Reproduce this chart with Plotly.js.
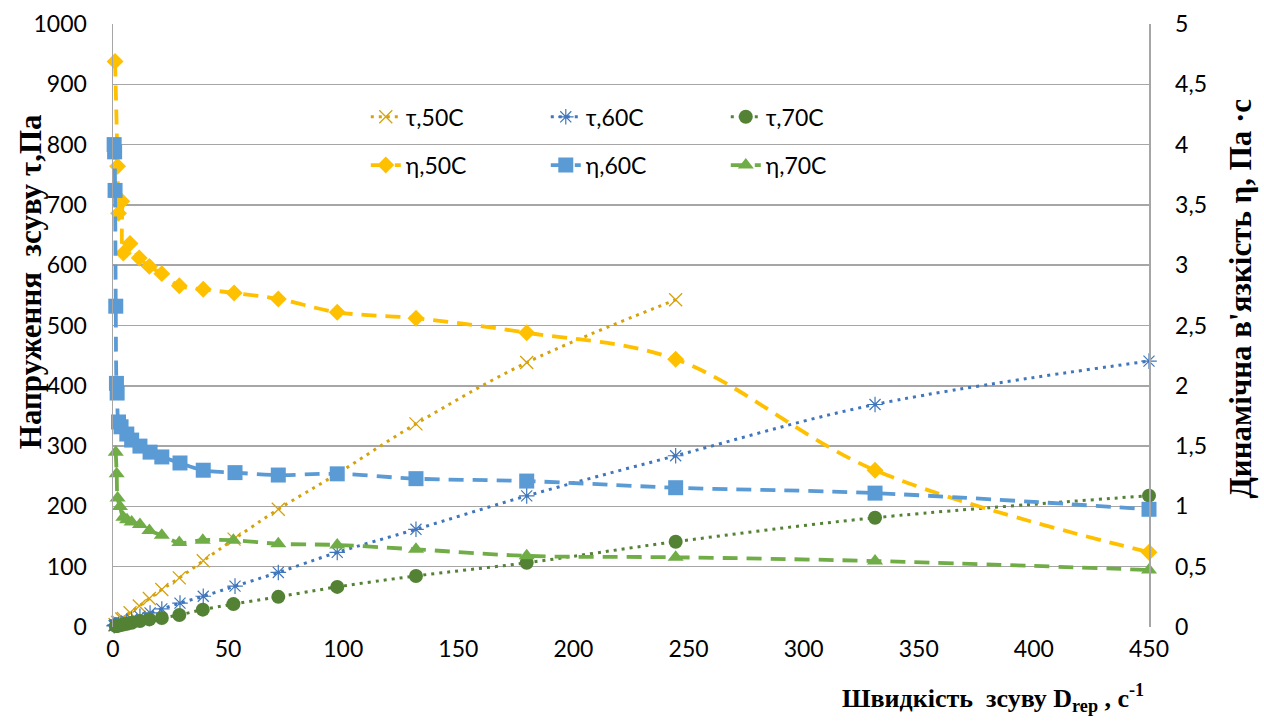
<!DOCTYPE html>
<html>
<head>
<meta charset="utf-8">
<script src="https://cdn.plot.ly/plotly-3.0.1.min.js"></script>
<style>html,body{margin:0;padding:0;background:#fff;}#chart{width:1264px;height:722px;}</style>
</head>
<body>
<div id="chart"></div>
<script>
// Shear rate D (1/s) per series
const xTau50 = [0.9, 2.0, 2.4, 3.8, 4.5, 7.4, 11.4, 15.8, 21.2, 28.8, 39.2, 52.6, 71.8, 97.4, 131.6, 179.7, 244.4];
const tau50  = [4.2, 7.6, 8.2, 13.4, 14.0, 23.5, 34.9, 47.2, 62.1, 81.5, 109.8, 145.7, 195.3, 254.2, 336.9, 438.5, 542.6];
const xEta50 = [0.9, 2.0, 2.4, 3.8, 4.5, 7.4, 11.4, 15.8, 21.2, 28.8, 39.2, 52.6, 71.8, 97.4, 131.6, 179.7, 244.4, 331, 450];
const eta50  = [4.69, 3.82, 3.43, 3.53, 3.10, 3.18, 3.06, 2.99, 2.93, 2.83, 2.80, 2.77, 2.72, 2.61, 2.56, 2.44, 2.22, 1.30, 0.62];

const x60    = [0.5, 0.7, 0.9, 1.2, 1.5, 1.8, 2.4, 3.5, 6.0, 8.1, 11.7, 16.1, 21.2, 29.1, 39.2, 53.0, 71.8, 97.4, 131.6, 179.7, 244.4, 331, 450];
const tau60  = [2.0, 2.8, 3.3, 3.2, 3.0, 3.5, 4.1, 5.8, 9.6, 12.6, 17.6, 23.3, 29.9, 39.6, 51.0, 67.8, 90.5, 123.7, 162.0, 217.4, 284.0, 369.0, 441.0];
const eta60  = [4.00, 3.94, 3.62, 2.66, 2.02, 1.94, 1.70, 1.66, 1.60, 1.55, 1.50, 1.45, 1.41, 1.36, 1.30, 1.28, 1.26, 1.27, 1.23, 1.21, 1.155, 1.11, 0.976];

const x70    = [1.2, 1.6, 2.0, 3.0, 4.5, 6.1, 8.1, 11.7, 15.8, 21.2, 28.8, 39.0, 52.3, 71.8, 97.4, 131.6, 179.7, 244.4, 331, 450];
const tau70  = [1.7, 2.0, 2.1, 3.0, 4.1, 5.4, 7.0, 9.9, 12.6, 15.0, 20.0, 28.8, 38.0, 50.0, 66.5, 84.7, 106.5, 141.5, 181.2, 217.8];
const eta70  = [1.45, 1.27, 1.07, 1.00, 0.91, 0.89, 0.87, 0.85, 0.80, 0.76, 0.70, 0.72, 0.72, 0.69, 0.68, 0.644, 0.59, 0.578, 0.547, 0.473];

const names = ['τ,50C', 'τ,60C', 'τ,70C', 'η,50C', 'η,60C', 'η,70C'];

const dotDash = '3px,5px';
const longDash = '15px,9px';

const traces = [
  {x: xEta50, y: eta50, name: names[3], yaxis: 'y2', legend: 'legend2', mode: 'lines+markers',
   line: {color: '#FFC000', width: 3.8, dash: longDash, shape: 'spline'},
   marker: {symbol: 'diamond', size: 13, color: '#FFC000'}},
  {x: x60, y: eta60, name: names[4], yaxis: 'y2', legend: 'legend2', mode: 'lines+markers',
   line: {color: '#5B9BD5', width: 3.8, dash: longDash, shape: 'spline'},
   marker: {symbol: 'square', size: 15, color: '#5B9BD5'}},
  {x: x70, y: eta70, name: names[5], yaxis: 'y2', legend: 'legend2', mode: 'lines+markers',
   line: {color: '#70AD47', width: 3.8, dash: longDash, shape: 'spline'},
   marker: {symbol: 'triangle-up', size: 14, color: '#70AD47'}},
  {x: xTau50, y: tau50, name: names[0], legend: 'legend', mode: 'lines+markers',
   line: {color: '#D6A20A', width: 3, dash: dotDash, shape: 'spline'},
   marker: {symbol: 'x-thin-open', size: 13, color: '#D6A20A', line: {color: '#D6A20A', width: 1.3}}},
  {x: x60, y: tau60, name: names[1], legend: 'legend', mode: 'lines+markers',
   line: {color: '#3F76BC', width: 3, dash: dotDash, shape: 'spline'},
   marker: {symbol: 'asterisk-open', size: 13, color: '#3F76BC', line: {color: '#3F76BC', width: 1.2}}},
  {x: x70, y: tau70, name: names[2], legend: 'legend', mode: 'lines+markers',
   line: {color: '#548235', width: 3, dash: dotDash, shape: 'spline'},
   marker: {symbol: 'circle', size: 14, color: '#548235'}}
];
traces.forEach(t => { t.cliponaxis = false; });

const tickFont = {family: 'Lato, "Open Sans", sans-serif', size: 23, color: '#000'};
const titleFont = {family: '"Liberation Serif", "DejaVu Serif", serif', size: 31, color: '#000'};

const legendBase = {
  orientation: 'h', entrywidth: 135, entrywidthmode: 'pixels',
  font: {family: 'Lato, "Open Sans", sans-serif', size: 23, color: '#000'},
  bgcolor: 'rgba(0,0,0,0)', xanchor: 'left', yanchor: 'middle',
  traceorder: 'normal', itemclick: false
};

const layout = {
  width: 1264, height: 722,
  margin: {l: 113, r: 115, t: 24, b: 95},
  paper_bgcolor: '#fff', plot_bgcolor: '#fff',
  separators: ', ',
  showlegend: true,
  legend: Object.assign({}, legendBase, {x: 0.244, y: 0.846}),
  legend2: Object.assign({}, legendBase, {x: 0.244, y: 0.766}),
  xaxis: {
    range: [0, 450], dtick: 50, tick0: 0, showgrid: false, zeroline: false,
    showline: false, ticks: '', tickfont: tickFont, ticklabelstandoff: 6
  },
  yaxis: {
    range: [0, 1000], dtick: 100, tick0: 0, showgrid: true, gridcolor: '#A6A6A6', gridwidth: 1.5,
    zeroline: false, showline: true, linecolor: '#A6A6A6', linewidth: 1.5, ticks: '',
    tickfont: tickFont, ticklabelstandoff: 20
  },
  yaxis2: {
    range: [0, 5], dtick: 0.5, tick0: 0, overlaying: 'y', side: 'right', showgrid: false,
    zeroline: false, showline: true, linecolor: '#A6A6A6', linewidth: 1.5, ticks: '',
    tickfont: tickFont, ticklabelstandoff: 20
  },
  annotations: [
    {text: '<b>Напруження  зсуву τ,Па</b>', xref: 'paper', yref: 'paper', x: -0.080, y: 0.572,
     xanchor: 'center', yanchor: 'middle', textangle: -90, showarrow: false, font: titleFont},
    {text: "<b>Динамічна в'язкість η, Па ·с</b>", xref: 'paper', yref: 'paper', x: 1.088, y: 0.545,
     xanchor: 'center', yanchor: 'middle', textangle: -90, showarrow: false, font: titleFont},
    {text: '<b>Швидкість  зсуву D<sub>rep</sub> , с<sup>-1</sup></b>', xref: 'paper', yref: 'paper', x: 0.849, y: -0.118,
     xanchor: 'center', yanchor: 'middle', showarrow: false,
     font: {family: '"Liberation Serif", "DejaVu Serif", serif', size: 26, color: '#000'}}
  ]
};

Plotly.newPlot('chart', traces, layout, {displayModeBar: false, staticPlot: true});
</script>
</body>
</html>
